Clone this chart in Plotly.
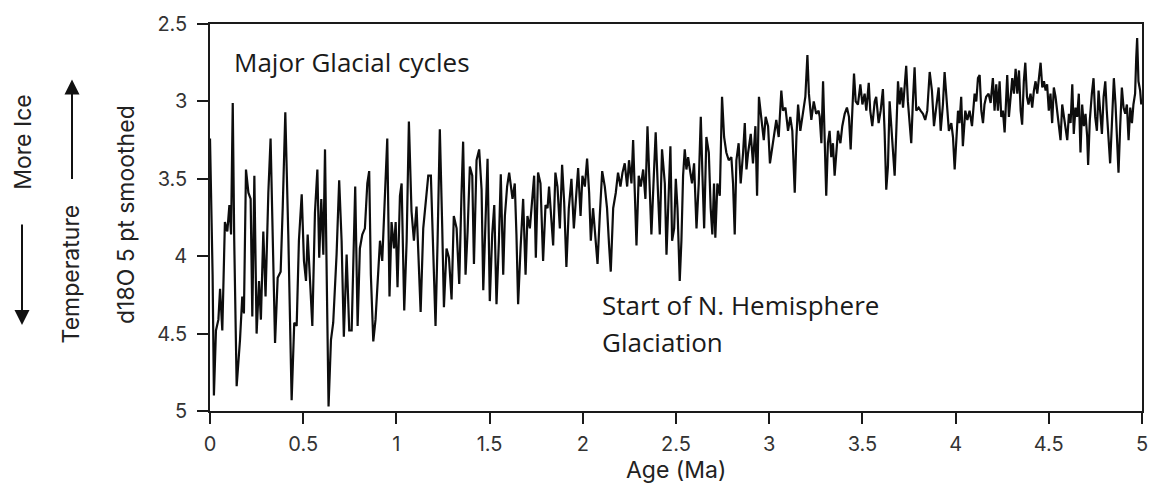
import plotly.graph_objects as go

# ---------------- data ----------------
age_1 = [0.000, 0.014, 0.021, 0.032, 0.045, 0.054, 0.066, 0.080, 0.093, 0.104,
         0.113, 0.122, 0.130, 0.143, 0.161, 0.173, 0.182, 0.193, 0.206, 0.218,
         0.227, 0.238, 0.250, 0.263, 0.273, 0.286, 0.298, 0.313, 0.325, 0.336,
         0.349, 0.363, 0.379, 0.390, 0.404, 0.420, 0.438, 0.452, 0.465, 0.477,
         0.492, 0.504, 0.515, 0.524, 0.536, 0.549, 0.563, 0.576, 0.586, 0.597,
         0.608, 0.617, 0.626, 0.636, 0.649, 0.661, 0.679, 0.693, 0.706, 0.718,
         0.733, 0.747, 0.760, 0.779]
d18o_1 = [3.24, 4.12, 4.90, 4.48, 4.41, 4.21, 4.48, 3.78, 3.84, 3.67,
          3.86, 3.01, 3.90, 4.84, 4.54, 4.26, 4.37, 3.44, 3.59, 3.63,
          4.39, 3.48, 4.50, 4.16, 4.41, 3.84, 4.26, 3.59, 3.24, 3.84,
          4.56, 4.14, 4.10, 3.69, 3.07, 3.86, 4.93, 4.43, 4.45, 3.90,
          3.60, 4.03, 4.16, 3.86, 4.12, 4.45, 3.72, 3.44, 4.01, 3.63,
          3.99, 3.31, 4.12, 4.97, 4.54, 4.43, 3.99, 3.51, 3.90, 4.52,
          3.99, 4.48, 4.48, 3.55]

age_2 = [0.792, 0.804, 0.817, 0.831, 0.844, 0.854, 0.863, 0.876, 0.888, 0.903,
         0.912, 0.924, 0.938, 0.951, 0.963, 0.974, 0.987, 0.996, 1.006, 1.019,
         1.028, 1.042, 1.055, 1.067, 1.081, 1.094, 1.108, 1.117, 1.130, 1.144,
         1.156, 1.171, 1.185, 1.197, 1.210, 1.221, 1.233, 1.246, 1.255, 1.269,
         1.282, 1.296, 1.308, 1.323, 1.337, 1.349, 1.358, 1.371, 1.382, 1.394,
         1.407, 1.416, 1.430, 1.444, 1.457, 1.466, 1.478, 1.489, 1.501, 1.514,
         1.525, 1.537, 1.550, 1.560, 1.573, 1.582, 1.594, 1.605]
d18o_2 = [4.45, 3.95, 3.86, 3.82, 3.53, 3.45, 4.12, 4.55, 4.41, 4.12,
          3.90, 4.03, 3.65, 3.24, 4.26, 3.78, 3.95, 3.78, 4.20, 3.61,
          3.53, 4.35, 3.90, 3.13, 3.71, 3.90, 3.68, 3.95, 4.36, 3.82,
          3.65, 3.48, 3.48, 4.01, 4.45, 3.90, 3.18, 3.82, 4.33, 3.95,
          4.01, 4.28, 3.74, 3.82, 4.18, 3.61, 3.26, 4.12, 3.84, 3.42,
          3.48, 4.05, 3.38, 3.31, 3.57, 4.22, 3.69, 3.37, 4.29, 3.86,
          3.67, 4.31, 3.90, 3.47, 4.12, 3.74, 3.55, 3.46]

age_3 = [1.623, 1.635, 1.644, 1.653, 1.666, 1.680, 1.693, 1.703, 1.716, 1.728,
         1.739, 1.748, 1.760, 1.773, 1.787, 1.800, 1.811, 1.819, 1.832, 1.841,
         1.853, 1.864, 1.877, 1.889, 1.900, 1.912, 1.925, 1.939, 1.952, 1.962,
         1.975, 1.988, 1.998, 2.011, 2.023, 2.034, 2.043, 2.055, 2.068, 2.079,
         2.091, 2.104, 2.118, 2.130, 2.141, 2.150, 2.163, 2.177, 2.189, 2.202,
         2.213, 2.225, 2.238, 2.248, 2.261, 2.270, 2.279, 2.288, 2.300, 2.311,
         2.324, 2.336, 2.347, 2.359, 2.368, 2.381, 2.391, 2.404, 2.413, 2.425]
d18o_3 = [3.63, 3.53, 3.86, 4.31, 3.95, 3.63, 4.12, 3.74, 3.82, 3.65,
          3.48, 4.01, 3.46, 3.53, 4.03, 3.67, 3.69, 3.55, 3.74, 3.93,
          3.46, 3.55, 3.82, 3.41, 3.65, 4.07, 3.69, 3.50, 3.82, 3.63,
          3.43, 3.74, 3.48, 3.55, 3.37, 3.59, 3.90, 3.69, 3.86, 4.05,
          3.74, 3.45, 3.55, 3.69, 3.93, 4.10, 3.69, 3.59, 3.46, 3.55,
          3.46, 3.40, 3.55, 3.38, 3.53, 3.25, 3.59, 3.93, 3.48, 3.55,
          3.44, 3.63, 3.16, 3.53, 3.86, 3.48, 3.20, 3.61, 3.86, 3.31]

age_4 = [2.440, 2.449, 2.461, 2.470, 2.479, 2.490, 2.499, 2.508, 2.520, 2.529,
         2.538, 2.547, 2.556, 2.565, 2.577, 2.586, 2.597, 2.610, 2.622, 2.633,
         2.642, 2.651, 2.663, 2.676, 2.686, 2.695, 2.704, 2.711, 2.722, 2.735,
         2.747, 2.758, 2.770, 2.783, 2.797, 2.806, 2.815, 2.824, 2.836, 2.847,
         2.860, 2.869, 2.878, 2.887, 2.901, 2.913, 2.926, 2.935, 2.945, 2.958,
         2.971, 2.981, 2.994, 3.004, 3.015, 3.026, 3.038, 3.051, 3.065, 3.074,
         3.087, 3.101, 3.113, 3.124, 3.137, 3.146, 3.155, 3.167, 3.182, 3.194,
         3.205, 3.213, 3.226, 3.239, 3.252, 3.265]
d18o_4 = [3.53, 3.99, 3.55, 3.29, 3.90, 3.82, 3.50, 3.69, 4.16, 3.90,
          3.48, 3.31, 3.44, 3.36, 3.46, 3.53, 3.40, 3.82, 3.53, 3.10,
          3.48, 3.82, 3.23, 3.33, 3.69, 3.86, 3.53, 3.88, 3.53, 3.61,
          2.97, 3.23, 3.33, 3.38, 3.36, 3.53, 3.86, 3.38, 3.27, 3.53,
          3.33, 3.14, 3.44, 3.33, 3.21, 3.40, 3.16, 3.61, 2.97, 3.12,
          3.25, 3.10, 3.16, 3.40, 3.31, 3.25, 3.12, 3.23, 2.93, 3.06,
          3.04, 3.19, 3.10, 3.19, 3.59, 3.23, 3.02, 3.19, 3.06, 2.97,
          2.70, 2.95, 3.12, 3.00, 3.08, 3.06]

age_5 = [3.271, 3.280, 3.289, 3.298, 3.306, 3.315, 3.324, 3.333, 3.342, 3.351,
         3.360, 3.369, 3.382, 3.392, 3.405, 3.417, 3.428, 3.437, 3.446, 3.455,
         3.464, 3.476, 3.489, 3.500, 3.512, 3.521, 3.534, 3.542, 3.553, 3.566,
         3.574, 3.587, 3.598, 3.610, 3.619, 3.628, 3.637, 3.646, 3.655, 3.664,
         3.673, 3.682, 3.691, 3.700, 3.709, 3.718, 3.728, 3.735, 3.744, 3.753,
         3.762, 3.771, 3.780, 3.789, 3.802, 3.812, 3.825, 3.837, 3.848, 3.861,
         3.873, 3.884, 3.896, 3.909, 3.920, 3.932, 3.941, 3.954, 3.964, 3.977,
         3.986, 3.995, 4.004, 4.013, 4.021, 4.030, 4.039, 4.052, 4.063, 4.075,
         4.088]
d18o_5 = [3.10, 3.27, 2.87, 3.33, 3.61, 3.27, 3.19, 3.36, 3.27, 3.48,
          3.31, 3.19, 3.27, 3.16, 3.08, 3.04, 3.10, 3.31, 3.06, 2.82,
          3.00, 3.02, 2.89, 3.02, 2.95, 3.06, 2.88, 3.06, 3.16, 3.00,
          2.97, 3.14, 3.06, 2.92, 3.19, 3.57, 3.42, 3.00, 3.16, 3.31,
          3.48, 3.19, 2.87, 3.02, 2.91, 3.04, 2.85, 2.77, 3.00, 3.12,
          3.27, 3.00, 2.78, 3.06, 3.04, 3.06, 3.08, 3.12, 3.06, 2.81,
          2.93, 3.16, 3.02, 2.91, 3.19, 3.02, 2.81, 3.06, 3.19, 3.14,
          3.23, 3.44, 3.23, 3.06, 3.14, 2.97, 3.29, 3.06, 3.12, 3.06,
          3.16]

age_6 = [4.102, 4.111, 4.120, 4.129, 4.138, 4.147, 4.155, 4.164, 4.177, 4.188,
         4.200, 4.209, 4.218, 4.227, 4.236, 4.245, 4.254, 4.263, 4.272, 4.277,
         4.286, 4.295, 4.304, 4.313, 4.322, 4.331, 4.340, 4.349, 4.357, 4.366,
         4.374, 4.383, 4.391, 4.402, 4.411, 4.420, 4.429, 4.438, 4.447, 4.456,
         4.465, 4.474, 4.483, 4.491, 4.500, 4.509, 4.518, 4.527, 4.536, 4.545,
         4.554, 4.563, 4.572, 4.581, 4.590, 4.599, 4.608, 4.617, 4.626, 4.634,
         4.643, 4.652, 4.661, 4.670, 4.679, 4.688, 4.697, 4.706, 4.711, 4.720,
         4.731, 4.740, 4.749, 4.758, 4.767, 4.776, 4.785, 4.794, 4.803, 4.811,
         4.820, 4.829, 4.838, 4.849, 4.858, 4.867, 4.874, 4.883, 4.892, 4.901,
         4.910, 4.919, 4.928, 4.937, 4.946, 4.954, 4.963, 4.969, 4.974, 4.981,
         4.990, 4.996]
d18o_6 = [2.95, 3.00, 2.85, 2.83, 3.06, 3.14, 3.02, 2.97, 2.95, 3.01,
          2.85, 3.06, 2.89, 3.06, 2.87, 3.10, 3.06, 3.20, 2.95, 2.83,
          3.10, 2.97, 2.85, 2.95, 2.79, 2.95, 2.80, 3.06, 3.15, 2.87,
          2.75, 2.97, 3.02, 2.95, 3.04, 2.93, 2.87, 2.95, 2.83, 2.75,
          2.91, 2.87, 2.93, 2.89, 3.06, 2.95, 3.14, 2.91, 2.97, 3.08,
          3.16, 3.25, 3.02, 3.10, 3.19, 3.25, 3.08, 3.14, 2.89, 3.21,
          3.04, 3.10, 2.95, 3.33, 3.02, 3.16, 3.08, 3.23, 3.41, 3.12,
          2.95, 2.85, 3.10, 3.19, 2.93, 3.06, 3.21, 2.97, 2.87, 3.06,
          3.23, 3.40, 3.16, 2.85, 3.02, 3.33, 3.46, 3.16, 2.91, 3.04,
          3.08, 3.02, 3.25, 3.04, 3.14, 3.02, 2.95, 2.72, 2.59, 2.87,
          2.93, 3.02]

x_tick_vals = [0, 0.5, 1, 1.5, 2, 2.5, 3, 3.5, 4, 4.5, 5]
x_tick_text = ["0", "0.5", "1", "1.5", "2", "2.5", "3", "3.5", "4", "4.5", "5"]
y_tick_vals = [2.5, 3, 3.5, 4, 4.5, 5]
y_tick_text = ["2.5", "3", "3.5", "4", "4.5", "5"]

# ---------------- assemble ----------------
ages, d18o = [], []
for a, v in [(age_1, d18o_1), (age_2, d18o_2), (age_3, d18o_3),
             (age_4, d18o_4), (age_5, d18o_5), (age_6, d18o_6)]:
    if len(a) != len(v):
        raise ValueError(f"length mismatch {len(a)} vs {len(v)} starting {a[0]}")
    ages += a
    d18o += v

W, H = 1161, 494
L, R, T, B = 210, 19, 20, 83
PW, PH = W - L - R, H - T - B


def px(xp):
    return (xp - L) / PW


def py(yp):
    return (H - B - yp) / PH


AX_FONT = "Inter, Liberation Sans, Arial, sans-serif"
NOTE_FONT = "Open Sans, Noto Sans, sans-serif"

fig = go.Figure()
fig.add_trace(go.Scatter(x=ages, y=d18o, mode="lines",
                         line=dict(color="#0d0d0d", width=2.2),
                         showlegend=False, hoverinfo="skip"))

axis_common = dict(showgrid=False, zeroline=False, showline=True,
                   linecolor="#1a1a1a", linewidth=1.5, mirror=True,
                   ticks="outside", ticklen=11, tickwidth=1.5,
                   tickcolor="#1a1a1a",
                   tickfont=dict(family=AX_FONT, size=20, color="#333333"))

fig.update_xaxes(range=[0, 5], tickvals=x_tick_vals, ticktext=x_tick_text,
                 ticklabelstandoff=3, **axis_common)
fig.update_yaxes(range=[5, 2.5], tickvals=y_tick_vals, ticktext=y_tick_text,
                 ticklabelstandoff=6, **axis_common)

annotations = [
    dict(text="Major Glacial cycles", x=px(232), y=py(58), xanchor="left",
         yanchor="middle", font=dict(family=NOTE_FONT, size=26, color="#1a1a1a")),
    dict(text="Start of N. Hemisphere", x=px(600), y=py(304), xanchor="left",
         yanchor="middle", font=dict(family=NOTE_FONT, size=26, color="#1a1a1a")),
    dict(text="Glaciation", x=px(600), y=py(341), xanchor="left",
         yanchor="middle", font=dict(family=NOTE_FONT, size=26, color="#1a1a1a")),
    dict(text="Age (Ma)", x=px(676), y=py(471), xanchor="center",
         yanchor="middle", font=dict(family=AX_FONT, size=23, color="#222222")),
    dict(text="d18O 5 pt smoothed", x=px(126), y=py(213), textangle=-90,
         xanchor="center", yanchor="middle",
         font=dict(family=AX_FONT, size=23, color="#222222")),
    dict(text="Temperature", x=px(71), y=py(273), textangle=-90,
         xanchor="center", yanchor="middle",
         font=dict(family=AX_FONT, size=23, color="#222222")),
    dict(text="More Ice", x=px(23), y=py(140), textangle=-90,
         xanchor="center", yanchor="middle",
         font=dict(family=AX_FONT, size=23, color="#222222")),
    # arrows
    dict(text="", x=px(72), y=py(76), ax=0, ay=101, showarrow=True,
         arrowhead=2, arrowsize=1.5, arrowwidth=2, arrowcolor="#111111"),
    dict(text="", x=px(22), y=py(324), ax=0, ay=-102, showarrow=True,
         arrowhead=2, arrowsize=1.5, arrowwidth=2, arrowcolor="#111111"),
]
for a in annotations:
    a.setdefault("xref", "paper")
    a.setdefault("yref", "paper")
    a.setdefault("showarrow", False)

fig.update_layout(width=W, height=H, margin=dict(l=L, r=R, t=T, b=B),
                  paper_bgcolor="white", plot_bgcolor="white",
                  annotations=annotations)

fig.write_html("out.html")
